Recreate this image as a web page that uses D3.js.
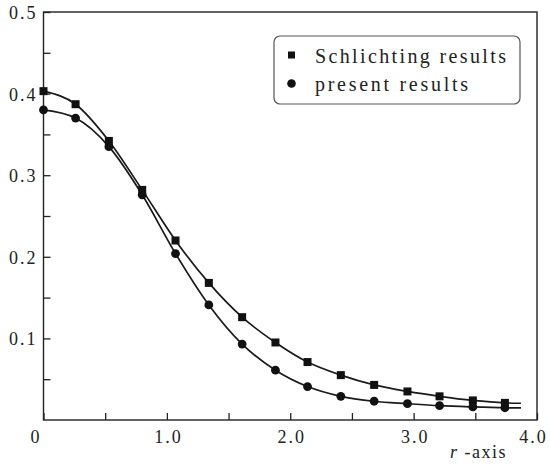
<!DOCTYPE html>
<html>
<head>
<meta charset="utf-8">
<script src="https://cdn.jsdelivr.net/npm/d3@7"></script>
<style>
  body { margin: 0; background: #fff; }
  text { font-family: "Liberation Serif", "DejaVu Serif", serif; fill: #222; }
</style>
</head>
<body>
<div id="chart"></div>
<script>
// Data

var rValues = [0, 0.26, 0.53, 0.80, 1.07, 1.34, 1.61, 1.88, 2.14, 2.41, 2.68, 2.95, 3.21, 3.48, 3.74];
var schlichting = [0.403, 0.387, 0.342, 0.282, 0.220, 0.168, 0.126, 0.095, 0.071, 0.055, 0.043, 0.035, 0.029, 0.024, 0.021];
var present = [0.380, 0.370, 0.335, 0.276, 0.204, 0.141, 0.093, 0.061, 0.041, 0.029, 0.023, 0.020, 0.0175, 0.016, 0.015];

// the curves run a little past the last marker
var tailR = 3.87;
var tailSchlichting = 0.0205;
var tailPresent = 0.0148;

var seriesNames = ["Schlichting results", "present results"];

var xTicks = [0, 1, 2, 3, 4];
var xTickLabels = ["0", "1.0", "2.0", "3.0", "4.0"];
var xMinorTicks = [0.5, 1.5, 2.5, 3.5];
var yTicks = [0.1, 0.2, 0.3, 0.4, 0.5];
var yTickLabels = ["0.1", "0.2", "0.3", "0.4", "0.5"];
var yMinorTicks = [0.05, 0.15, 0.25, 0.35, 0.45];
var xAxisLabel = "-axis";

// Set up the chart area

var svgWidth = 550;
var svgHeight = 464;
var margin = {
    top: 12,
    right: 13,
    bottom: 44,
    left: 43.5
};

var width = svgWidth - margin.left - margin.right;
var height = svgHeight - margin.top - margin.bottom;

var svg = d3.select("#chart")
  .append("svg")
  .attr("width", svgWidth)
  .attr("height", svgHeight);

var chartGroup = svg.append("g")
  .attr("transform", `translate(${margin.left}, ${margin.top})`);

// Scales
var xLinearScale = d3.scaleLinear()
    .domain([0, 4])
    .range([0, width]);

var yLinearScale = d3.scaleLinear()
    .domain([0, 0.5])
    .range([height, 0]);

// Axes (ticks point inward)
var bottomAxis = d3.axisBottom(xLinearScale)
    .tickValues(xTicks)
    .tickSizeInner(-7)
    .tickSizeOuter(0)
    .tickPadding(21)
    .tickFormat(function(d, i){ return xTickLabels[i]; });

var leftAxis = d3.axisLeft(yLinearScale)
    .tickValues(yTicks)
    .tickSizeInner(-7)
    .tickSizeOuter(0)
    .tickPadding(6)
    .tickFormat(function(d, i){ return yTickLabels[i]; });

var xAxisG = chartGroup.append("g")
    .attr("transform", `translate(0, ${height})`)
    .call(bottomAxis);

var yAxisG = chartGroup.append("g")
    .call(leftAxis);

chartGroup.append("g")
    .attr("transform", `translate(0, ${height})`)
    .call(d3.axisBottom(xLinearScale).tickValues(xMinorTicks).tickSizeInner(-7).tickSizeOuter(0).tickFormat(""));

chartGroup.append("g")
    .call(d3.axisLeft(yLinearScale).tickValues(yMinorTicks).tickSizeInner(-7).tickSizeOuter(0).tickFormat(""));

chartGroup.selectAll(".domain").remove();
chartGroup.selectAll(".tick line")
    .attr("stroke", "#222")
    .attr("stroke-width", 1.3);

xAxisG.selectAll("text")
    .attr("font-size", "18px")
    .attr("letter-spacing", "2px")
    .attr("fill", "#222")
    .attr("dx", function(d){
        if (d === 0) return "-8";
        if (d === 4) return "-4";
        return "1";
    })
    .attr("dy", "0.1em");

yAxisG.selectAll("text")
    .attr("font-size", "18px")
    .attr("letter-spacing", "2px")
    .attr("fill", "#222")
    .attr("dy", "0.36em");

// Frame
chartGroup.append("rect")
    .attr("x", 0)
    .attr("y", 0)
    .attr("width", width)
    .attr("height", height)
    .attr("fill", "none")
    .attr("stroke", "#222")
    .attr("stroke-width", 1.4);

// Curves
var line = d3.line()
    .x(function(d){ return xLinearScale(d[0]); })
    .y(function(d){ return yLinearScale(d[1]); })
    .curve(d3.curveMonotoneX);

var sqPoints = rValues.map(function(r, i){ return [r, schlichting[i]]; });
var ciPoints = rValues.map(function(r, i){ return [r, present[i]]; });

chartGroup.append("path")
    .datum(sqPoints.concat([[tailR, tailSchlichting]]))
    .attr("d", line)
    .attr("fill", "none")
    .attr("stroke", "#1a1a1a")
    .attr("stroke-width", 1.7);

chartGroup.append("path")
    .datum(ciPoints.concat([[tailR, tailPresent]]))
    .attr("d", line)
    .attr("fill", "none")
    .attr("stroke", "#1a1a1a")
    .attr("stroke-width", 1.7);

// Markers
chartGroup.selectAll(".sq")
    .data(sqPoints)
    .enter()
    .append("rect")
    .attr("class", "sq")
    .attr("x", function(d){ return xLinearScale(d[0]) - 4; })
    .attr("y", function(d){ return yLinearScale(d[1]) - 4; })
    .attr("width", 8)
    .attr("height", 8)
    .attr("fill", "#111");

chartGroup.selectAll(".ci")
    .data(ciPoints)
    .enter()
    .append("circle")
    .attr("class", "ci")
    .attr("cx", function(d){ return xLinearScale(d[0]); })
    .attr("cy", function(d){ return yLinearScale(d[1]); })
    .attr("r", 4.4)
    .attr("fill", "#111");

// Legend
var legend = svg.append("g")
    .attr("transform", "translate(274, 36)");

legend.append("rect")
    .attr("width", 246)
    .attr("height", 68)
    .attr("rx", 6)
    .attr("fill", "#fff")
    .attr("stroke", "#555")
    .attr("stroke-width", 1.2);

legend.append("rect")
    .attr("x", 14)
    .attr("y", 15.5)
    .attr("width", 7)
    .attr("height", 7)
    .attr("fill", "#111");

legend.append("circle")
    .attr("cx", 17.5)
    .attr("cy", 47.5)
    .attr("r", 4.3)
    .attr("fill", "#111");

legend.append("text")
    .attr("x", 41)
    .attr("y", 27)
    .attr("font-size", "20px")
    .attr("textLength", 191)
    .attr("lengthAdjust", "spacing")
    .text(seriesNames[0]);

legend.append("text")
    .attr("x", 41)
    .attr("y", 54.5)
    .attr("font-size", "20px")
    .attr("textLength", 153)
    .attr("lengthAdjust", "spacing")
    .text(seriesNames[1]);

// Axis name
var axisName = svg.append("text")
    .attr("x", 450)
    .attr("y", 458)
    .attr("font-size", "18px")
    .attr("letter-spacing", "1.5px");
axisName.append("tspan")
    .attr("font-style", "italic")
    .text("r");
axisName.append("tspan")
    .text(" " + xAxisLabel);
</script>
</body>
</html>
